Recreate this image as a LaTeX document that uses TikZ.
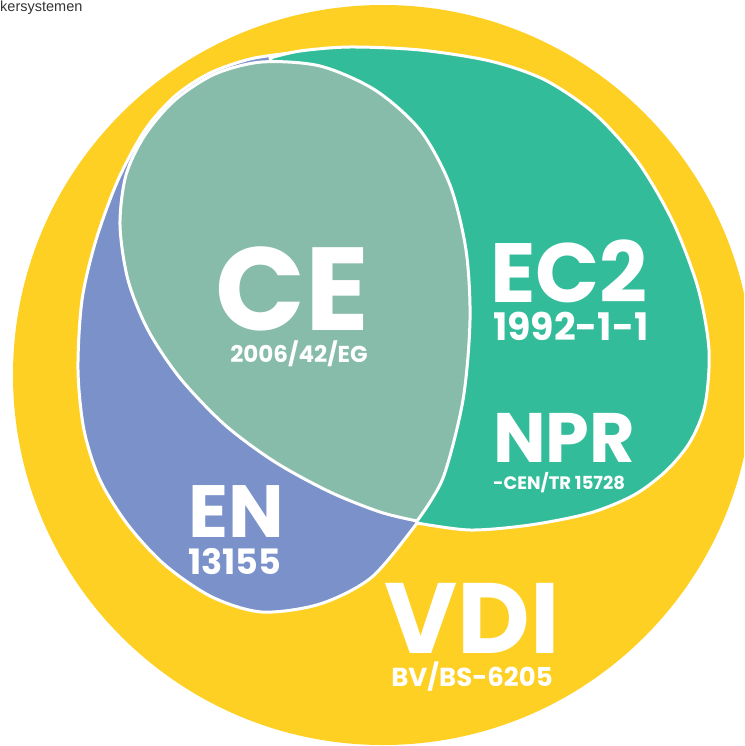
\documentclass[tikz,border=0pt]{standalone}
\usepackage{fontspec}
\setmainfont{Poppins}
\newfontfamily\capfont{Liberation Sans}
\definecolor{vdiyellow}{HTML}{FED023}
\definecolor{engreen}{HTML}{33BC9A}
\definecolor{cegray}{HTML}{88BCAA}
\definecolor{enblue}{HTML}{7A92C9}

\begin{document}
\begin{tikzpicture}[x=1pt, y=-1pt, blob/.style={draw=white, line width=3pt, line join=round}, lbl/.style={text=white, inner sep=0pt, text depth=0pt, font=\bfseries\fontsize{#1}{#1}\selectfont} ]
	\useasboundingbox (0,0) rectangle (744,746);
	\clip (0,0) rectangle (744,746);
	\node[anchor=base west, inner sep=0pt, text=black!80, font=\capfont\fontsize{14.5}{14.5}\selectfont] (T) at (0,12) {kersystemen};

	%Regioes: VDI, EN, EC2, CE (de baixo para cima)
	\fill[vdiyellow] (383,375) circle[radius=370];
	\draw[blob, fill=enblue] plot[smooth] coordinates {(290,53) (250,59) (210,73) (175,96) (145,130) (118,180) (96,240) (82,300) (78,370) (84,430) (100,480) (128,525) (165,565) (212,597) (262,612) (320,604) (372,577) (417,523)} -- (330,330) -- cycle;
	\draw[blob, fill=engreen] plot[smooth] coordinates {(270,58) (300,51) (350,47) (420,50) (490,61) (545,80) (595,114) (638,162) (673,222) (698,288) (709,350) (705,405) (690,442) (666,471) (634,495) (590,513) (530,525) (470,530) (417,523)} -- (390,300) -- cycle;
	\draw[blob, fill=cegray] plot[smooth] coordinates {(417,521) (380,512) (330,492) (275,462) (225,425) (180,378) (148,330) (128,280) (120,225) (126,175) (145,135) (175,100) (215,74) (262,62) (320,66) (375,90) (420,130) (450,185) (466,250) (470,320) (463,400) (443,478) (417,521)} -- cycle;

	\node[lbl=118, anchor=base] (CE) at (292,330) {CE};
	\node[lbl=23, anchor=base] (CEn) at (299,362) {2006/42/EG};
	\node[lbl=84, anchor=base west] (EC) at (490,302) {EC2};
	\node[lbl=38, anchor=base west] (ECn) at (493,340) {1992-1-1};
	\node[lbl=70, anchor=base west] (NPR) at (493,462) {NPR};
	\node[lbl=18, anchor=base west] (NPRn) at (493,489) {-CEN/TR 15728};
	\node[lbl=74, anchor=base west] (EN) at (188,537) {EN};
	\node[lbl=35, anchor=base west] (ENn) at (188,574) {13155};
	\node[lbl=100, anchor=base] (VDI) at (472,653) {VDI};
	\node[lbl=26, anchor=base] (VDIn) at (472,686) {BV/BS-6205};
\end{tikzpicture}
\end{document}
